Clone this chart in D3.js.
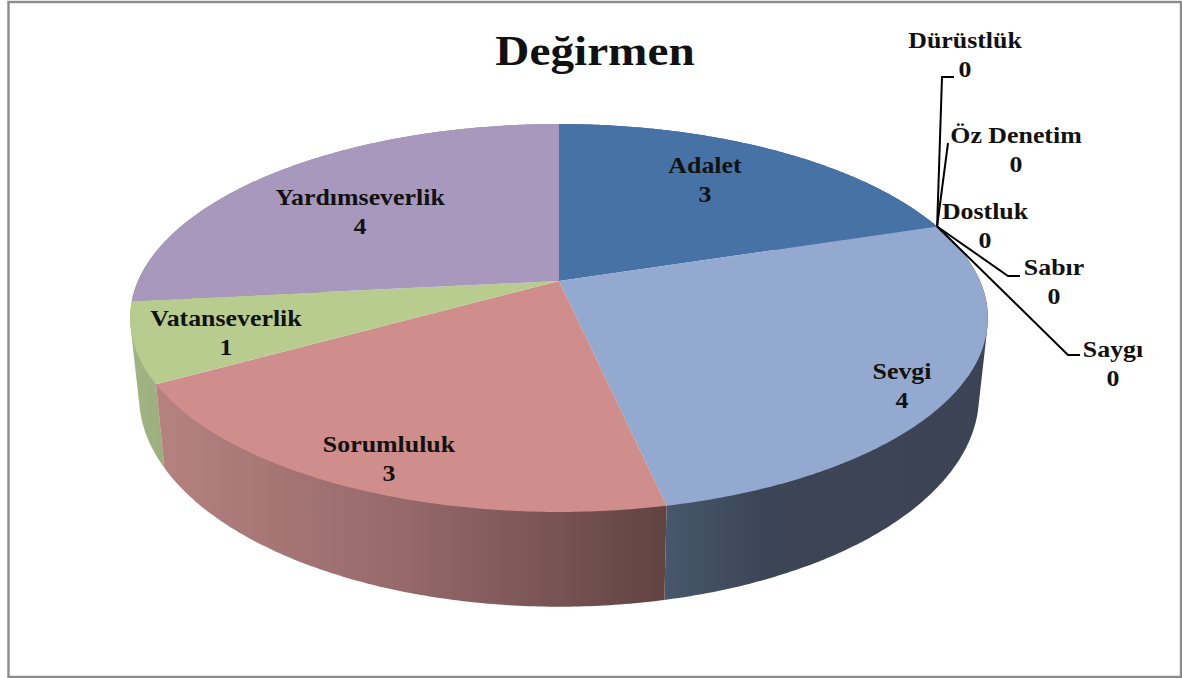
<!DOCTYPE html>
<html>
<head>
<meta charset="utf-8">
<script src="https://cdnjs.cloudflare.com/ajax/libs/d3/7.8.5/d3.min.js"></script>
<style>
html, body { margin: 0; padding: 0; background: #fff; }
svg { display: block; }
text { font-family: "Liberation Serif", serif; font-weight: bold; fill: #111; text-anchor: middle; }
.v-title { font-size: 42px; }
.v-label { font-size: 23px; }
</style>
</head>
<body>
<div id="chart"></div>
<script>
var WIDTH = 1182, HEIGHT = 678;

var title = 'Değirmen';
// alfabetik sira, sifirlar Adalet ile Sevgi arasinda kaliyor
var categories = ['Adalet', 'Dostluk', 'Dürüstlük', 'Öz Denetim', 'Sabır', 'Saygı', 'Sevgi', 'Sorumluluk', 'Vatanseverlik', 'Yardımseverlik'];
var values = [3, 0, 0, 0, 0, 0, 4, 3, 1, 4];

var topColors = ['#4672a6', '#4672a6', '#4672a6', '#4672a6', '#4672a6', '#4672a6', '#93a9cf', '#cf8d8b', '#b8cc90', '#a898bd'];
var sideStops = {
    'Sevgi': [[0, '#47586c'], [0.3, '#3c4557'], [1, '#3c4354']],
    'Sorumluluk': [[0, '#b5827f'], [0.5, '#95686a'], [1, '#614341']],
    'Vatanseverlik': [[0, '#a3b585'], [1, '#9cae7e']],
    'Yardımseverlik': [[0, '#8f81a0'], [1, '#8f81a0']],
    'Adalet': [[0, '#3a5f8a'], [1, '#3a5f8a']]
};

//etiket merkezleri
var labelPos = {
    'Adalet': [705, 173], 'Sevgi': [902, 379], 'Sorumluluk': [389, 452],
    'Vatanseverlik': [226, 326], 'Yardımseverlik': [360, 205],
    'Dürüstlük': [965, 48], 'Öz Denetim': [1016, 143], 'Dostluk': [985, 219],
    'Sabır': [1054, 275], 'Saygı': [1113, 357]
};
//sifir dilimlerin kilavuz cizgileri
var leaders = {
    'Dürüstlük': [[942, 77], [954, 77]],
    'Öz Denetim': [[948, 143]],
    'Sabır': [[1008, 276], [1020, 276]],
    'Saygı': [[1068, 355], [1080, 355]]
};

//perspektif ayarlari: ust yuz ve alt kenar
var CX = 559, P = 0.1907;
var TOP = { r: 421, cy: 281, h: 186.9 };
var BOTTOM = { r: 412.3, cy: 355.5, h: 203.3 };
var STRETCH = 1.125;

function project(angle, face) {
    var u = Math.sin(angle), v = Math.cos(angle);
    var w = 1 + P * v;
    return [CX + face.r * u / w, face.cy - face.h * v / w];
}

function arcPoints(a0, a1, face) {
    var n = Math.max(2, Math.ceil(Math.abs(a1 - a0) / 0.01));
    return d3.range(n + 1).map(function (i) {
        return project(a0 + (a1 - a0) * i / n, face);
    });
}

var pieData = d3.pie().sort(null).value(function (d, i) { return values[i]; })(categories);
var line = d3.line();

var svg = d3.select('#chart').append('svg').attr('width', WIDTH).attr('height', HEIGHT);
var defs = svg.append('defs');

svg.append('rect')
    .attr('x', 8.5).attr('y', 2).attr('width', 1172.5).attr('height', 675)
    .attr('fill', '#fff').attr('stroke', '#8c8c8c').attr('stroke-width', 2.4);

// yan yuzler, arkadan one
var visible = pieData.filter(function (d) { return d.value > 0; });
var sideOrder = ['Adalet', 'Yardımseverlik', 'Vatanseverlik', 'Sevgi', 'Sorumluluk'];
sideOrder.forEach(function (name, k) {
    var d = visible.filter(function (s) { return s.data === name; })[0];
    var pts = arcPoints(d.startAngle, d.endAngle, TOP).concat(arcPoints(d.startAngle, d.endAngle, BOTTOM));
    var xs = d3.extent(pts, function (p) { return p[0]; });
    var id = 'side' + k;
    var grad = defs.append('linearGradient').attr('id', id)
        .attr('gradientUnits', 'userSpaceOnUse')
        .attr('x1', xs[0]).attr('x2', xs[1]).attr('y1', 0).attr('y2', 0);
    sideStops[name].forEach(function (s) {
        grad.append('stop').attr('offset', s[0]).attr('stop-color', s[1]);
    });
    // hull: ust ve alt elips arasindaki teget kenari da kapsasin
    svg.append('path')
        .attr('d', line(d3.polygonHull(pts)) + 'Z')
        .attr('fill', 'url(#' + id + ')');
});

// ust yuz
svg.selectAll('path.v-top')
    .data(visible)
    .enter()
    .append('path')
    .attr('class', 'v-top')
    .attr('d', function (d) {
        return line([[CX, TOP.cy]].concat(arcPoints(d.startAngle, d.endAngle, TOP))) + 'Z';
    })
    .attr('fill', function (d) { return topColors[d.index]; });

// kilavuz cizgileri, hepsi sifir dilimin kenarindan cikiyor
pieData.forEach(function (d) {
    if (!leaders[d.data]) return;
    svg.append('path')
        .attr('d', line([project(d.startAngle, TOP)].concat(leaders[d.data])))
        .attr('fill', 'none')
        .attr('stroke', '#000')
        .attr('stroke-width', 2);
});

function label(cls, x, y, txt) {
    svg.append('text').attr('class', cls)
        .attr('transform', 'translate(' + x + ',' + y + ') scale(' + STRETCH + ',1)')
        .text(txt);
}

label('v-title', 595, 65, title);

pieData.forEach(function (d) {
    var pos = labelPos[d.data];
    label('v-label', pos[0], pos[1], d.data);
    label('v-label', pos[0], pos[1] + 28.5, d.value);
});
</script>
</body>
</html>
